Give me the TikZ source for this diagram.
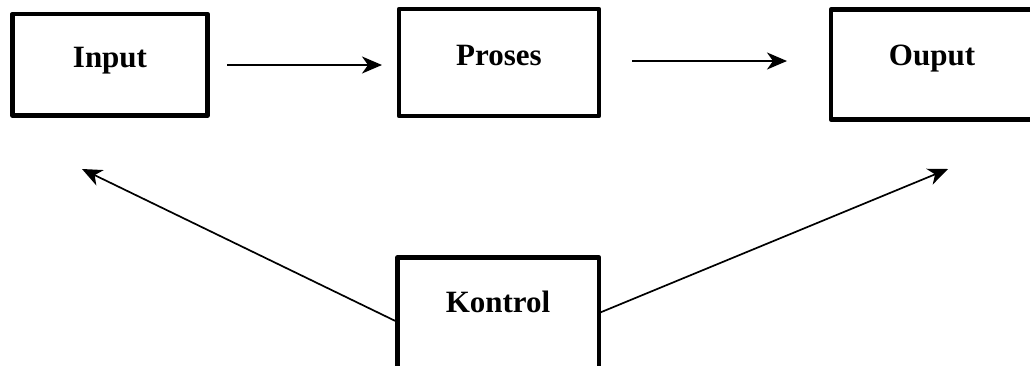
\documentclass[tikz,border=0pt]{standalone}
\usepackage{fontspec}
\setmainfont{Liberation Serif}
\usetikzlibrary{arrows.meta,calc}
\begin{document}
\begin{tikzpicture}[x=1pt,y=-1pt,
  box/.style={draw, rectangle, line width=4.8pt, line join=round, outer sep=0pt, inner sep=0pt, anchor=north west},
  lbl/.style={font=\bfseries\fontsize{31}{36}\selectfont, anchor=base, inner sep=0pt},
  arr/.style={-{Stealth[length=20pt,width=17pt,inset=6pt]}, line width=1.7pt}]
\useasboundingbox (0,0) rectangle (1030,365);
\clip (0,0) rectangle (1030,365);

% blocks
\node[box, minimum width=195pt, minimum height=101.5pt] (in) at (12.5,14) {};
\node[box, minimum width=200pt, minimum height=107pt] (pr) at (399,9) {};
\node[box, minimum width=210pt, minimum height=110pt] (out) at (831,9.5) {};
\node[box, minimum width=201.5pt, minimum height=130pt] (ko) at (397.5,257.5) {};

% block titles
\node[lbl] (tin) at (110,67) {Input};
\node[lbl] (tpr) at (499,65) {Proses};
\node[lbl] (tout) at (932,65) {Ouput};
\node[lbl] (tko) at (498,312) {Kontrol};

% flow
\draw[arr] ($(in.east)+(19.5,0.25)$) -- ($(pr.west)+(-17,2.5)$);
\draw[arr] ($(pr.east)+(33,-1.5)$) -- ($(out.west)+(-44,-3.5)$);
\draw[arr] ($(ko.north west)+(0,64.5)$) -- ($(in.south west)+(69.5,53.5)$);
\draw[arr] ($(ko.north east)+(0,55.5)$) -- ($(out.south west)+(117,49.5)$);
\end{tikzpicture}
\end{document}
